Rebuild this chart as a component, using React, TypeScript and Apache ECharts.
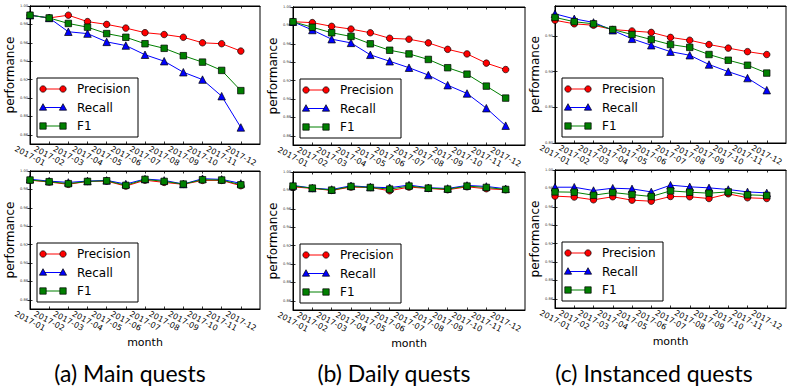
import React, { useEffect, useRef } from "react";
import * as echarts from "echarts";

const months = ["2017-01", "2017-02", "2017-03", "2017-04", "2017-05", "2017-06", "2017-07", "2017-08", "2017-09", "2017-10", "2017-11", "2017-12"];
const seriesNames = ["Precision", "Recall", "F1"];
const captions = ["(a) Main quests", "(b) Daily quests", "(c) Instanced quests"];

const ticksFine = [0.86, 0.88, 0.9, 0.92, 0.94, 0.96, 0.98, 1.0];
const ticksCoarse = [0.8, 0.85, 0.9, 0.95];

// Top row
const mainTopP = [0.990, 0.987, 0.990, 0.983, 0.980, 0.976, 0.971, 0.969, 0.966, 0.960, 0.959, 0.951];
const mainTopR = [0.990, 0.987, 0.972, 0.970, 0.961, 0.957, 0.947, 0.940, 0.928, 0.920, 0.902, 0.868];
const mainTopF = [0.990, 0.987, 0.981, 0.977, 0.970, 0.966, 0.959, 0.954, 0.946, 0.939, 0.930, 0.908];

const dailyTopP = [0.984, 0.983, 0.979, 0.976, 0.972, 0.966, 0.965, 0.961, 0.954, 0.949, 0.939, 0.932];
const dailyTopR = [0.984, 0.975, 0.965, 0.961, 0.948, 0.941, 0.934, 0.926, 0.915, 0.906, 0.890, 0.871];
const dailyTopF = [0.984, 0.978, 0.972, 0.968, 0.960, 0.953, 0.949, 0.943, 0.934, 0.927, 0.914, 0.901];

const instTopP = [0.972, 0.967, 0.965, 0.959, 0.957, 0.955, 0.948, 0.944, 0.938, 0.933, 0.928, 0.924];
const instTopR = [0.981, 0.974, 0.969, 0.958, 0.946, 0.937, 0.928, 0.923, 0.910, 0.900, 0.891, 0.874];
const instTopF = [0.976, 0.970, 0.967, 0.959, 0.952, 0.945, 0.938, 0.934, 0.924, 0.916, 0.909, 0.898];

// Bottom row
const mainBotP = [0.9900, 0.9880, 0.9855, 0.9887, 0.9890, 0.9836, 0.9900, 0.9876, 0.9855, 0.9898, 0.9898, 0.9840];
const mainBotR = [0.9910, 0.9890, 0.9876, 0.9890, 0.9898, 0.9858, 0.9913, 0.9898, 0.9858, 0.9916, 0.9909, 0.9865];
const mainBotF = [0.9902, 0.9884, 0.9862, 0.9887, 0.9894, 0.9844, 0.9909, 0.9887, 0.9858, 0.9905, 0.9902, 0.9850];

const dailyBotP = [0.9839, 0.9821, 0.9800, 0.9836, 0.9832, 0.9796, 0.9836, 0.9821, 0.9807, 0.9839, 0.9818, 0.9807];
const dailyBotR = [0.9854, 0.9825, 0.9810, 0.9850, 0.9836, 0.9829, 0.9858, 0.9829, 0.9821, 0.9854, 0.9843, 0.9818];
const dailyBotF = [0.9847, 0.9825, 0.9803, 0.9843, 0.9832, 0.9814, 0.9847, 0.9825, 0.9814, 0.9847, 0.9832, 0.9810];

const instBotP = [0.9716, 0.9706, 0.9676, 0.9709, 0.9672, 0.9661, 0.9712, 0.9709, 0.9690, 0.9741, 0.9698, 0.9690];
const instBotR = [0.9813, 0.9813, 0.9777, 0.9802, 0.9795, 0.9762, 0.9835, 0.9817, 0.9806, 0.9788, 0.9762, 0.9751];
const instBotF = [0.9762, 0.9759, 0.9726, 0.9755, 0.9733, 0.9712, 0.9773, 0.9759, 0.9748, 0.9762, 0.9730, 0.9723];

const colors = ["#ff0000", "#0000ff", "#008000"];
const symbols = ["circle", "triangle", "rect"];
const symbolSizes = [6.5, 7.5, 6.5];

type Panel = { left: number; top: number; width: number; height: number; min: number; max: number; ticks: number[]; data: number[][]; bottom: boolean };

const panels: Panel[] = [
  { left: 30, top: 6, width: 230, height: 138, min: 0.85, max: 1.0, ticks: ticksFine, data: [mainTopP, mainTopR, mainTopF], bottom: false },
  { left: 293, top: 7, width: 232, height: 138, min: 0.85, max: 1.0, ticks: ticksFine, data: [dailyTopP, dailyTopR, dailyTopF], bottom: false },
  { left: 555, top: 6, width: 231, height: 137, min: 0.8, max: 0.992, ticks: ticksCoarse, data: [instTopP, instTopR, instTopF], bottom: false },
  { left: 30, top: 171, width: 230, height: 138, min: 0.85, max: 1.0, ticks: ticksFine, data: [mainBotP, mainBotR, mainBotF], bottom: true },
  { left: 293, top: 172, width: 232, height: 138, min: 0.85, max: 1.0, ticks: ticksFine, data: [dailyBotP, dailyBotR, dailyBotF], bottom: true },
  { left: 555, top: 170, width: 231, height: 138, min: 0.85, max: 1.0, ticks: ticksFine, data: [instBotP, instBotR, instBotF], bottom: true },
];

const captionX = [130, 394, 654];

function markerGraphic(kind: number, cx: number, cy: number) {
  const style = { fill: colors[kind], stroke: "#000", lineWidth: 0.7 };
  if (kind === 0) return { type: "circle", z: 101, shape: { cx, cy, r: 3.2 }, style };
  if (kind === 1)
    return { type: "polygon", z: 101, shape: { points: [[cx, cy - 3.8], [cx + 3.6, cy + 2.7], [cx - 3.6, cy + 2.7]] }, style };
  return { type: "rect", z: 101, shape: { x: cx - 3.2, y: cy - 3.2, width: 6.4, height: 6.4 }, style };
}

function legendGraphic(p: Panel) {
  const bx = p.left + 7;
  const by = p.top + 72;
  const els: any[] = [
    { type: "rect", z: 100, shape: { x: bx, y: by, width: 101, height: 59 }, style: { fill: "#fff", stroke: "#000", lineWidth: 1 } },
  ];
  const ys = [by + 11, by + 29.5, by + 48];
  seriesNames.forEach((name, k) => {
    const y = ys[k];
    els.push({ type: "line", z: 100, shape: { x1: bx + 6, y1: y, x2: bx + 26, y2: y }, style: { stroke: colors[k], lineWidth: 1 } });
    els.push(markerGraphic(k, bx + 6, y));
    els.push(markerGraphic(k, bx + 26, y));
    els.push({
      type: "text",
      z: 101,
      x: bx + 40,
      y,
      style: { text: name, font: "12px 'DejaVu Sans'", fill: "#000", textAlign: "left", textVerticalAlign: "middle", align: "left", verticalAlign: "middle" },
    });
  });
  return els;
}

export default function App() {
  const ref = useRef<HTMLDivElement>(null);
  useEffect(() => {
    if (!ref.current) return;
    const chart = echarts.init(ref.current, null, { renderer: "svg", width: 787, height: 389 });
    const xIdx = months.map((_, i) => i);
    const grid: any[] = [];
    const xAxis: any[] = [];
    const yAxis: any[] = [];
    const series: any[] = [];
    let graphic: any[] = [];
    panels.forEach((p, gi) => {
      grid.push({ left: p.left, top: p.top, width: p.width, height: p.height, show: true, backgroundColor: "#fff", borderColor: "#000", borderWidth: 1 });
      const axisLine = { show: true, lineStyle: { color: "#000", width: 1 } };
      const tick = { show: true, inside: true, length: 2.5, lineStyle: { color: "#000", width: 0.8 } };
      xAxis.push({
        type: "value",
        gridIndex: gi,
        min: 0,
        max: 12,
        position: "bottom",
        axisLine,
        splitLine: { show: false },
        axisTick: { ...tick, customValues: xIdx },
        axisLabel: {
          customValues: xIdx,
          formatter: (v: number) => months[Math.round(v)] ?? "",
          rotate: -28,
          align: "center",
          verticalAlign: "middle",
          margin: 12,
          fontSize: 8,
          fontFamily: "DejaVu Sans",
          color: "#000",
        },
        name: p.bottom ? "month" : "",
        nameLocation: "middle",
        nameGap: 28,
        nameTextStyle: { fontSize: 11, fontFamily: "DejaVu Sans", color: "#000" },
      });
      xAxis.push({
        type: "value",
        gridIndex: gi,
        min: 0,
        max: 12,
        position: "top",
        axisLine,
        splitLine: { show: false },
        axisTick: { ...tick, customValues: xIdx },
        axisLabel: { show: false },
      });
      yAxis.push({
        type: "value",
        gridIndex: gi,
        min: p.min,
        max: p.max,
        position: "left",
        axisLine,
        splitLine: { show: false },
        axisTick: { ...tick, customValues: p.ticks },
        axisLabel: {
          customValues: p.ticks,
          formatter: (v: number) => v.toFixed(2),
          fontSize: 3.6,
          fontFamily: "DejaVu Sans",
          color: "#333",
          margin: 2,
        },
        name: "performance",
        nameLocation: "middle",
        nameGap: 13,
        nameTextStyle: { fontSize: 12, fontFamily: "DejaVu Sans", color: "#000" },
      });
      yAxis.push({
        type: "value",
        gridIndex: gi,
        min: p.min,
        max: p.max,
        position: "right",
        axisLine,
        splitLine: { show: false },
        axisTick: { ...tick, customValues: p.ticks },
        axisLabel: { show: false },
      });
      p.data.forEach((vals, k) => {
        series.push({
          type: "line",
          name: seriesNames[k],
          xAxisIndex: gi * 2,
          yAxisIndex: gi * 2,
          data: vals.map((v, i) => [i, v]),
          symbol: symbols[k],
          symbolSize: symbolSizes[k],
          showAllSymbol: true,
          lineStyle: { color: colors[k], width: 1 },
          itemStyle: { color: colors[k], borderColor: "#000", borderWidth: 0.7 },
          emphasis: { disabled: true },
          z: 2 + k,
        });
      });
      graphic = graphic.concat(legendGraphic(p));
    });
    captions.forEach((c, i) => {
      graphic.push({
        type: "text",
        z: 100,
        x: captionX[i],
        y: 373,
        style: { text: c, font: "23px Lato", fill: "#000", textAlign: "center", textVerticalAlign: "middle", align: "center", verticalAlign: "middle" },
      });
    });
    chart.setOption({
      animation: false,
      backgroundColor: "#fff",
      grid,
      xAxis,
      yAxis,
      series,
      graphic,
    });
    return () => chart.dispose();
  }, []);
  return <div ref={ref} style={{ position: "fixed", left: 0, top: 0, width: 787, height: 389 }} />;
}
